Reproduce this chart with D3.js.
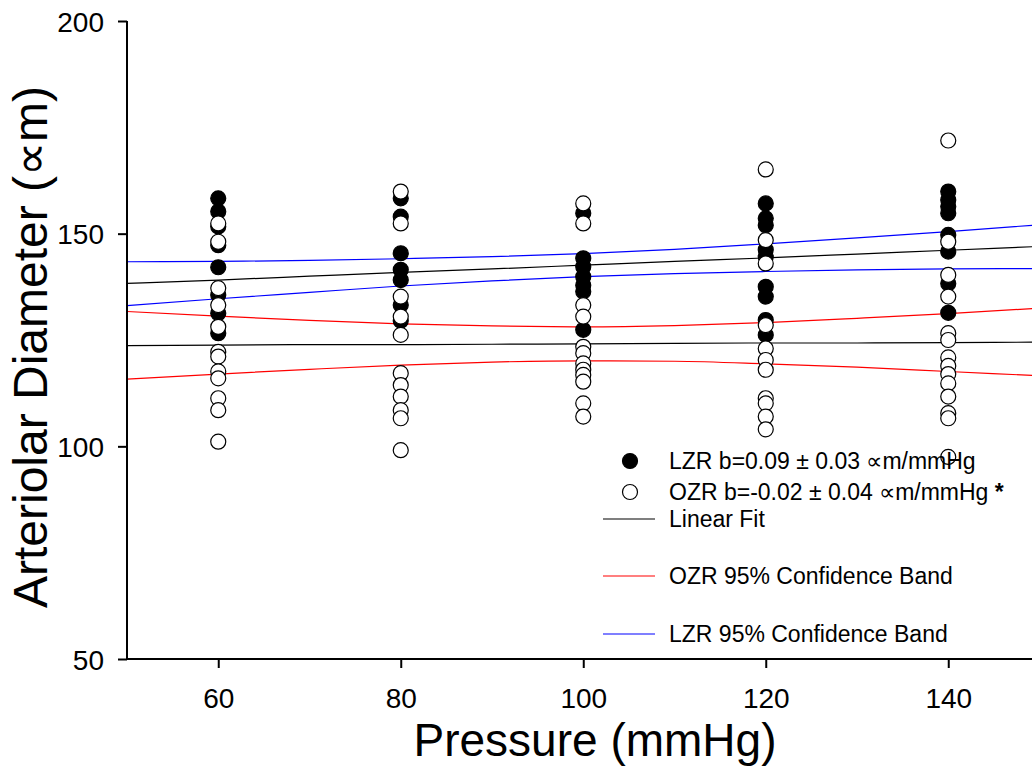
<!DOCTYPE html>
<html>
<head>
<meta charset="utf-8">
<script src="https://cdn.jsdelivr.net/npm/d3@7"></script>
<style>
  body { margin: 0; background: #fff; }
  svg { display: block; font-family: "Liberation Sans", Arial, sans-serif; }
</style>
</head>
<body>
<div id="chart"></div>
<script>
'use strict';

// pressure levels (mmHg)
var pressures = [60, 80, 100, 120, 140];

// arteriolar diameter, LZR (filled) per pressure level
var lzrDiam = [
  [158.3, 155.2, 151.7, 147.3, 142.1, 135.6, 131.3, 126.6],
  [158.3, 154.0, 145.4, 141.5, 139.1, 133.2, 129.5],
  [154.8, 144.2, 142.2, 139.9, 137.9, 136.4, 127.4],
  [157.1, 153.6, 152.0, 146.2, 144.6, 137.5, 135.2, 129.7, 126.2],
  [159.9, 157.9, 156.4, 154.8, 149.7, 145.8, 138.3, 131.4]
];

// arteriolar diameter, OZR (open) per pressure level
var ozrDiam = [
  [152.4, 148.1, 137.2, 133.2, 128.1, 122.2, 121.1, 117.6, 116.0, 111.3, 108.5, 101.1],
  [159.9, 152.4, 135.2, 130.5, 126.2, 117.2, 114.4, 111.7, 108.5, 106.6, 99.1],
  [157.1, 152.4, 133.2, 130.5, 123.4, 121.9, 119.5, 118.0, 116.8, 115.2, 110.1, 107.0],
  [165.1, 148.5, 143.0, 128.5, 123.0, 120.3, 118.0, 111.3, 110.1, 107.0, 104.0],
  [171.9, 148.1, 140.3, 135.2, 126.6, 125.0, 120.9, 118.9, 117.0, 114.8, 111.7, 107.8, 106.6, 97.5]
];

// fit lines and 95% confidence bands
var bandX    = [50, 60, 70, 80, 90, 100, 110, 120, 130, 140, 150];
var lzrFit   = [138.3, 139.1, 140.0, 140.9, 141.7, 142.6, 143.5, 144.3, 145.2, 146.1, 147.0];
var lzrUpper = [143.4, 143.5, 143.7, 144.1, 144.6, 145.3, 146.3, 147.6, 149.0, 150.5, 152.1];
var lzrLower = [133.1, 134.7, 136.2, 137.7, 138.9, 139.9, 140.6, 141.1, 141.5, 141.7, 141.8];
var ozrFit   = [123.7, 123.8, 123.9, 123.9, 124.0, 124.1, 124.2, 124.3, 124.3, 124.4, 124.5];
var ozrUpper = [131.7, 130.6, 129.6, 128.8, 128.3, 128.1, 128.4, 129.1, 130.1, 131.2, 132.5];
var ozrLower = [115.8, 117.0, 118.1, 119.1, 119.8, 120.1, 120.0, 119.4, 118.6, 117.6, 116.6];

var xTicks = [60, 80, 100, 120, 140];
var yTicks = [50, 100, 150, 200];

var legendItems = [
  { kind: 'filled', label: 'LZR b=0.09 \u00b1 0.03 \u221dm/mmHg' },
  { kind: 'open',   label: 'OZR b=-0.02 \u00b1 0.04 \u221dm/mmHg', star: true },
  { kind: 'line', color: '#000000', label: 'Linear Fit' },
  { kind: 'line', color: '#ff0000', label: 'OZR 95% Confidence Band' },
  { kind: 'line', color: '#0000ff', label: 'LZR 95% Confidence Band' }
];

(function () {
  var width = 1032, height = 776;
  var plotLeft = 127, plotTop = 21, plotBottom = 659;

  var svg = d3.select('#chart').append('svg')
    .attr('width', width)
    .attr('height', height);

  var x = d3.scaleLinear().domain([50, 150]).range([plotLeft, plotLeft + 912.5]);
  var y = d3.scaleLinear().domain([50, 200]).range([plotBottom, plotTop]);

  // bands and fits
  var line = d3.line()
    .x(function (d) { return x(d[0]); })
    .y(function (d) { return y(d[1]); })
    .curve(d3.curveMonotoneX);

  function drawLine(vals, color) {
    svg.append('path')
      .datum(d3.zip(bandX, vals))
      .attr('d', line)
      .attr('fill', 'none')
      .attr('stroke', color)
      .attr('stroke-width', 1.2);
  }

  drawLine(lzrUpper, '#0000ff');
  drawLine(lzrLower, '#0000ff');
  drawLine(ozrUpper, '#ff0000');
  drawLine(ozrLower, '#ff0000');
  drawLine(lzrFit, '#000000');
  drawLine(ozrFit, '#000000');

  // points
  function flatten(groups) {
    var out = [];
    groups.forEach(function (g, i) {
      g.forEach(function (v) { out.push([pressures[i], v]); });
    });
    return out;
  }

  svg.append('g').selectAll('circle')
    .data(flatten(lzrDiam))
    .enter().append('circle')
    .attr('cx', function (d) { return x(d[0]); })
    .attr('cy', function (d) { return y(d[1]); })
    .attr('r', 7.5)
    .attr('fill', '#000')
    .attr('stroke', '#000')
    .attr('stroke-width', 1.2);

  svg.append('g').selectAll('circle')
    .data(flatten(ozrDiam))
    .enter().append('circle')
    .attr('cx', function (d) { return x(d[0]); })
    .attr('cy', function (d) { return y(d[1]); })
    .attr('r', 7.5)
    .attr('fill', '#fff')
    .attr('stroke', '#000')
    .attr('stroke-width', 1.2);

  // axes
  var xAxis = svg.append('g')
    .attr('transform', 'translate(0,' + plotBottom + ')')
    .call(d3.axisBottom(x).tickValues(xTicks).tickSize(9).tickPadding(20));
  var yAxis = svg.append('g')
    .attr('transform', 'translate(' + plotLeft + ',0)')
    .call(d3.axisLeft(y).tickValues(yTicks).tickSize(9).tickPadding(14));

  [xAxis, yAxis].forEach(function (a) {
    a.select('.domain').attr('stroke-width', 2);
    a.selectAll('.tick line').attr('stroke-width', 2);
    a.selectAll('.tick text')
      .attr('font-family', '"Liberation Sans", Arial, sans-serif')
      .attr('font-size', 28)
      .attr('fill', '#000');
  });
  yAxis.selectAll('.tick text').attr('dy', '0.36em');
  xAxis.select('.domain').attr('d', 'M' + plotLeft + ',0H' + width);
  yAxis.select('.domain').attr('d', 'M0,' + plotTop + 'V' + plotBottom);

  // titles
  svg.append('text')
    .attr('x', 595)
    .attr('y', 756)
    .attr('text-anchor', 'middle')
    .attr('font-size', 46)
    .text('Pressure (mmHg)');

  svg.append('text')
    .attr('transform', 'translate(47,347) rotate(-90)')
    .attr('text-anchor', 'middle')
    .attr('font-size', 48)
    .text('Arteriolar Diameter (\u221dm)');

  // legend
  var legendY = [469, 500, 527, 584, 642];
  var legend = svg.append('g');
  legendItems.forEach(function (it, i) {
    var ly = legendY[i];
    if (it.kind === 'line') {
      legend.append('line')
        .attr('x1', 603).attr('x2', 655)
        .attr('y1', ly - 8).attr('y2', ly - 8)
        .attr('stroke', it.color)
        .attr('stroke-width', 1.2);
    } else {
      legend.append('circle')
        .attr('cx', 630).attr('cy', ly - 8)
        .attr('r', 7.5)
        .attr('fill', it.kind === 'filled' ? '#000' : '#fff')
        .attr('stroke', '#000')
        .attr('stroke-width', 1.2);
    }
    var t = legend.append('text')
      .attr('x', 669)
      .attr('y', ly)
      .attr('font-size', 23)
      .text(it.label);
    if (it.star) {
      t.append('tspan').attr('font-weight', 'bold').text(' *');
    }
  });
})();
</script>
</body>
</html>
